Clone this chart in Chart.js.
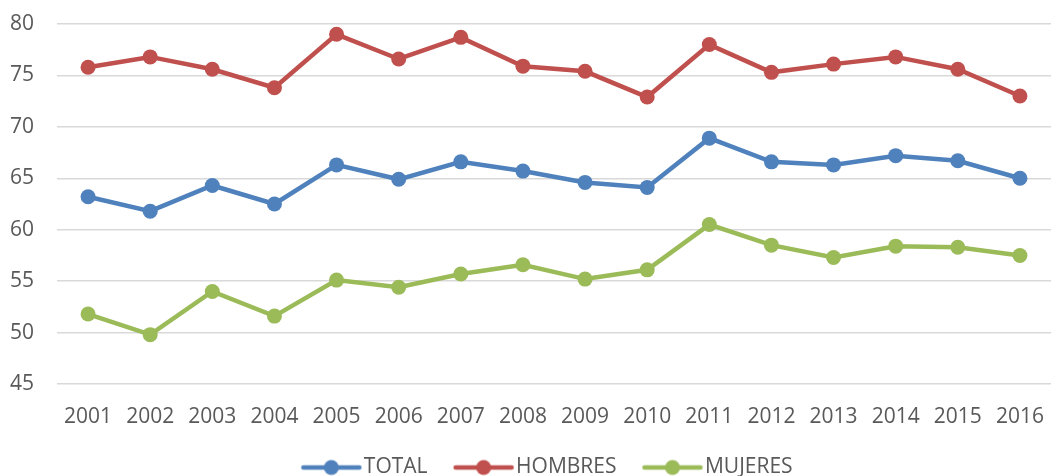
<!DOCTYPE html>
<html>
<head>
<meta charset="utf-8">
<script src="https://cdn.jsdelivr.net/npm/chart.js@4.4.1/dist/chart.umd.min.js"></script>
<style>
  html, body { margin: 0; padding: 0; background: #fff; }
  #wrap { width: 1051px; height: 476px; }
</style>
</head>
<body>
<div id="wrap"><canvas id="chart"></canvas></div>
<script>
// data
const years = ['2001', '2002', '2003', '2004', '2005', '2006', '2007', '2008',
               '2009', '2010', '2011', '2012', '2013', '2014', '2015', '2016'];
const total = [63.2, 61.8, 64.3, 62.5, 66.3, 64.9, 66.6, 65.7, 64.6, 64.1, 68.9, 66.6, 66.3, 67.2, 66.7, 65.0];
const hombres = [75.8, 76.8, 75.6, 73.8, 79.0, 76.6, 78.7, 75.9, 75.4, 72.9, 78.0, 75.3, 76.1, 76.8, 75.6, 73.0];
const mujeres = [51.8, 49.8, 54.0, 51.6, 55.1, 54.4, 55.7, 56.6, 55.2, 56.1, 60.5, 58.5, 57.3, 58.4, 58.3, 57.5];

const blue = '#4F81BD';
const red = '#C0504D';
const green = '#9BBB59';
const textColor = '#595959';
const fontFamily = '"Open Sans", "Liberation Sans", sans-serif';

// legend marker: short line with a dot in the middle
// (drawn a bit right of the canvas centre so the text sits close to it)
function legendMarker(color) {
    const c = document.createElement('canvas');
    c.width = 72;
    c.height = 18;
    const g = c.getContext('2d');
    g.strokeStyle = color;
    g.lineWidth = 4.5;
    g.lineCap = 'round';
    g.beginPath();
    g.moveTo(12, 9);
    g.lineTo(68, 9);
    g.stroke();
    g.fillStyle = color;
    g.beginPath();
    g.arc(40, 9, 7.5, 0, Math.PI * 2);
    g.fill();
    return c;
}

function makeSeries(label, data, color) {
    return {
        label: label,
        data: data,
        borderColor: color,
        backgroundColor: color,
        borderWidth: 4.5,
        pointRadius: 7.5,
        pointHoverRadius: 7.5,
        pointBorderWidth: 0,
        pointStyle: 'circle',
        tension: 0
    };
}

// nudge the legend a little to the right, like the original
const legendShift = {
    id: 'legendShift',
    afterLayout(chart) {
        chart.legend.left += 12;
        chart.legend.right += 12;
    }
};

const ctx = document.getElementById('chart').getContext('2d');
new Chart(ctx, {
    type: 'line',
    data: {
        labels: years,
        datasets: [
            makeSeries('TOTAL', total, blue),
            makeSeries('HOMBRES', hombres, red),
            makeSeries('MUJERES', mujeres, green)
        ]
    },
    plugins: [legendShift],
    options: {
        responsive: true,
        maintainAspectRatio: false,
        animation: false,
        layout: {
            autoPadding: false,
            padding: { top: 24, right: -9, left: 10, bottom: -12 }
        },
        plugins: {
            tooltip: { enabled: false },
            legend: {
                position: 'bottom',
                labels: {
                    usePointStyle: true,
                    pointStyleWidth: 52,
                    color: textColor,
                    font: { family: fontFamily, size: 21 },
                    padding: 26,
                    generateLabels: chart => chart.data.datasets.map((ds, i) => ({
                        text: ds.label,
                        pointStyle: legendMarker(ds.borderColor),
                        fontColor: textColor,
                        lineWidth: 0,
                        strokeStyle: 'transparent',
                        fillStyle: ds.borderColor,
                        datasetIndex: i
                    }))
                }
            }
        },
        scales: {
            x: {
                offset: true,
                grid: { display: false },
                border: { display: false },
                ticks: {
                    color: textColor,
                    font: { family: fontFamily, size: 21 },
                    padding: 12,
                    maxRotation: 0
                },
                afterFit: scale => {
                    scale.height = 47;
                    scale.paddingLeft = 0;
                    scale.paddingRight = 0;
                }
            },
            y: {
                min: 45,
                max: 80,
                grid: { color: '#D9D9D9', lineWidth: 1.5, drawTicks: false },
                border: { display: false },
                ticks: {
                    stepSize: 5,
                    color: textColor,
                    font: { family: fontFamily, size: 21 },
                    padding: 23
                },
                afterFit: scale => {
                    scale.width = 47;
                    scale.paddingTop = 0;
                    scale.paddingBottom = 0;
                }
            }
        }
    }
});
</script>
</body>
</html>
